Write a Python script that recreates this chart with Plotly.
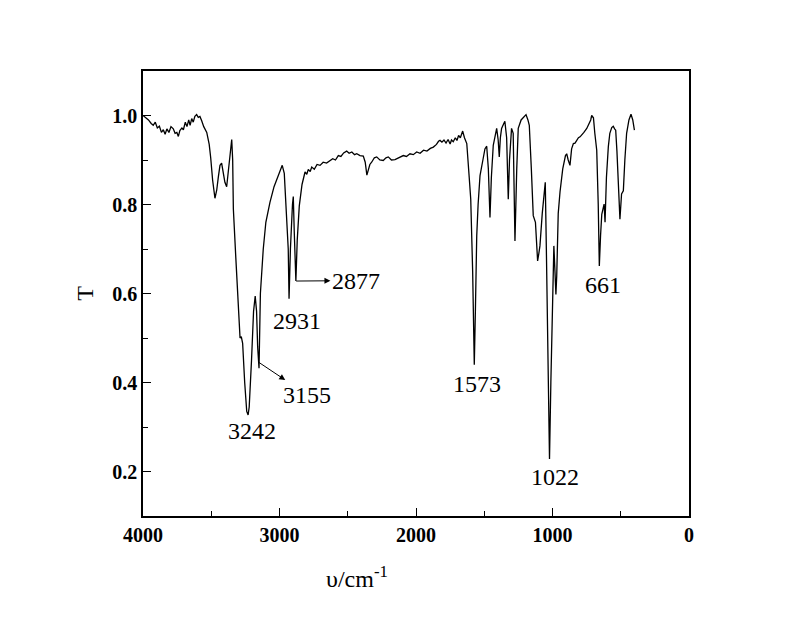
import plotly.graph_objects as go

# IR spectrum
wavenumber = [
    4000, 3980, 3960, 3940, 3925, 3910, 3895, 3880, 3865, 3851, 3838, 3825,
    3810, 3795, 3778, 3765, 3752, 3741, 3730, 3715, 3704, 3690, 3678, 3665,
    3655, 3643, 3632, 3620, 3607, 3595, 3583, 3570, 3555, 3533, 3515, 3504,
    3490, 3473, 3460, 3448, 3436, 3424, 3412, 3400, 3387, 3375, 3362, 3350,
    3343, 3338, 3320, 3300, 3289, 3280, 3270, 3255, 3240, 3230, 3222, 3205,
    3190, 3178, 3168, 3160, 3150, 3140, 3119, 3100, 3070, 3040, 3010, 2980,
    2965, 2950, 2936, 2930, 2920, 2905, 2899, 2892, 2880, 2870, 2855, 2835,
    2813, 2800, 2789, 2775, 2764, 2745, 2725, 2703, 2680, 2655, 2630, 2610,
    2590, 2569, 2550, 2530, 2508, 2490, 2470, 2450, 2434, 2410, 2386, 2372,
    2360, 2350, 2338, 2325, 2305, 2288, 2265, 2240, 2220, 2203, 2180, 2154,
    2130, 2110, 2093, 2070, 2044, 2020, 1995, 1970, 1945, 1920, 1895, 1873,
    1850, 1835, 1824, 1810, 1795, 1780, 1765, 1750, 1740, 1727, 1712, 1700,
    1688, 1675, 1658, 1645, 1628, 1610, 1599, 1585, 1573, 1565, 1555, 1545,
    1531, 1510, 1495, 1482, 1470, 1458, 1448, 1434, 1420, 1409, 1398, 1390,
    1382, 1373, 1360, 1349, 1336, 1324, 1315, 1300, 1288, 1275, 1262, 1251,
    1230, 1210, 1194, 1180, 1170, 1155, 1141, 1125, 1109, 1100, 1092, 1075,
    1053, 1045, 1035, 1022, 1012, 1000, 990, 982, 975, 969, 958, 945,
    925, 905, 896, 885, 872, 860, 847, 835, 823, 810, 798, 785,
    770, 749, 735, 720, 713, 700, 690, 676, 665, 657, 648, 639,
    630, 622, 615, 605, 591, 580, 566, 555, 545, 537, 528, 518,
    506, 494, 481, 470, 457, 440, 425, 412, 400,
]
transmittance = [
    1.000, 0.995, 0.990, 0.982, 0.978, 0.985, 0.972, 0.976, 0.962, 0.968, 0.958, 0.970,
    0.962, 0.975, 0.970, 0.960, 0.962, 0.953, 0.966, 0.972, 0.968, 0.985, 0.975, 0.990,
    0.978, 0.993, 0.985, 0.998, 1.002, 0.996, 0.998, 0.988, 0.975, 0.962, 0.935, 0.905,
    0.855, 0.814, 0.832, 0.862, 0.888, 0.893, 0.875, 0.850, 0.840, 0.870, 0.915, 0.946,
    0.900, 0.790, 0.680, 0.560, 0.500, 0.503, 0.488, 0.400, 0.335, 0.327, 0.345, 0.450,
    0.560, 0.594, 0.560, 0.480, 0.432, 0.600, 0.700, 0.760, 0.805, 0.840, 0.865, 0.888,
    0.870, 0.790, 0.700, 0.588, 0.700, 0.800, 0.818, 0.740, 0.628, 0.720, 0.797, 0.845,
    0.873, 0.868, 0.879, 0.874, 0.884, 0.879, 0.890, 0.888, 0.895, 0.893, 0.899, 0.903,
    0.900, 0.910, 0.908, 0.916, 0.920, 0.915, 0.918, 0.912, 0.914, 0.910, 0.909, 0.895,
    0.866, 0.875, 0.890, 0.895, 0.905, 0.907, 0.900, 0.899, 0.905, 0.907, 0.900, 0.901,
    0.905, 0.907, 0.910, 0.908, 0.914, 0.912, 0.918, 0.915, 0.922, 0.920, 0.926, 0.929,
    0.935, 0.942, 0.944, 0.940, 0.945, 0.938, 0.946, 0.936, 0.945, 0.941, 0.950, 0.944,
    0.955, 0.950, 0.965, 0.950, 0.937, 0.860, 0.812, 0.650, 0.440, 0.560, 0.730, 0.800,
    0.865, 0.900, 0.925, 0.931, 0.880, 0.771, 0.860, 0.933, 0.955, 0.971, 0.945, 0.907,
    0.950, 0.971, 0.980, 0.987, 0.950, 0.812, 0.900, 0.971, 0.960, 0.718, 0.880, 0.971,
    0.990, 0.998, 1.002, 0.990, 0.978, 0.880, 0.775, 0.760, 0.673, 0.690, 0.707, 0.780,
    0.850, 0.700, 0.450, 0.228, 0.400, 0.600, 0.707, 0.650, 0.598, 0.640, 0.780, 0.828,
    0.880, 0.910, 0.914, 0.900, 0.888, 0.925, 0.937, 0.938, 0.945, 0.950, 0.952, 0.958,
    0.962, 0.971, 0.980, 0.990, 1.000, 0.995, 0.960, 0.922, 0.800, 0.662, 0.730, 0.778,
    0.790, 0.801, 0.760, 0.860, 0.930, 0.960, 0.973, 0.976, 0.970, 0.967, 0.920, 0.850,
    0.767, 0.824, 0.831, 0.900, 0.960, 0.990, 1.003, 0.990, 0.967,
]

# peak labels without arrows: text, x, y (text centre)
peak_labels = ["3242", "2931", "1573", "1022", "661"]
peak_x = [3198, 2869, 1551, 982, 628]
peak_y = [0.291, 0.539, 0.396, 0.187, 0.620]

# peak labels with an arrow from the band to the text
arrow_labels = ["3155", "2877"]
arrow_band_x = [3150, 2878]
arrow_band_y = [0.445, 0.628]
arrow_text_x = [2799, 2440]
arrow_text_y = [0.373, 0.629]

serif = "Liberation Serif"

fig = go.Figure(go.Scatter(
    x=wavenumber, y=transmittance, mode="lines",
    line=dict(color="black", width=1.3),
))

for txt, px, py in zip(peak_labels, peak_x, peak_y):
    fig.add_annotation(x=px, y=py, text=txt, showarrow=False,
                       font=dict(family=serif, size=24, color="black"))

for txt, bx, by, tx, ty in zip(arrow_labels, arrow_band_x, arrow_band_y,
                               arrow_text_x, arrow_text_y):
    fig.add_annotation(x=bx, y=by, ax=tx, ay=ty, axref="x", ayref="y",
                       text=txt, showarrow=True, arrowside="start",
                       arrowhead=2, arrowsize=1.2, arrowwidth=1,
                       arrowcolor="black", startarrowhead=2,
                       startarrowsize=1.2, standoff=0, startstandoff=0,
                       font=dict(family=serif, size=24, color="black"))

# x axis title sits left of centre in the original
fig.add_annotation(xref="paper", yref="paper", x=0.392, y=-0.137,
                   xanchor="center", yanchor="middle",
                   text="υ/cm<sup>-1</sup>", showarrow=False,
                   font=dict(family=serif, size=24, color="black"))

axis_common = dict(
    showline=True, linecolor="black", linewidth=1.5, mirror=True,
    ticks="inside", tickcolor="black", ticklen=8, tickwidth=1.2,
    showgrid=False, zeroline=False,
    tickfont=dict(family=serif, size=20, color="black", weight="bold"),
)

fig.update_xaxes(
    range=[4000, 0], dtick=1000, tick0=0,
    minor=dict(dtick=500, ticks="inside", ticklen=5, tickcolor="black"),
    **axis_common,
)
fig.update_yaxes(
    range=[0.1, 1.1], dtick=0.2, tick0=0, tickformat=".1f",
    minor=dict(dtick=0.1, ticks="inside", ticklen=5, tickcolor="black"),
    title=dict(text="T", standoff=12,
               font=dict(family=serif, size=24, color="black")),
    **axis_common,
)

fig.update_layout(
    width=792, height=609,
    margin=dict(l=135, r=111, t=63, b=101),
    plot_bgcolor="white", paper_bgcolor="white",
    showlegend=False,
)

fig.write_html("out.html")
